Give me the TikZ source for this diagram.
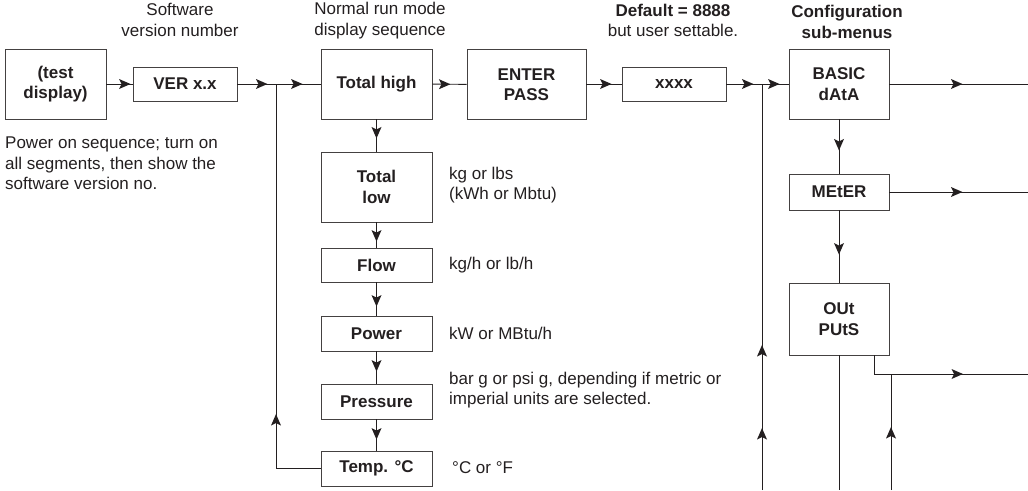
\documentclass[tikz,border=0pt]{standalone}
\usepackage{fontspec}
\setmainfont{Liberation Sans}
\usetikzlibrary{arrows.meta,decorations.markings}
\definecolor{ink}{HTML}{231F20}
\newcommand{\mytip}{\fill[ink] (0pt,0pt) -- (-11.5pt,5pt) -- (-9pt,0pt) -- (-11.5pt,-5pt) -- cycle;}
\tikzset{
  box/.style={draw=ink!85, line width=0.9pt, rectangle, inner sep=0pt, align=center,
    font=\fontsize{17}{20.5}\selectfont\bfseries, text=ink},
  lbl/.style={inner sep=0pt, align=left, anchor=west, font=\fontsize{17}{20.5}\selectfont, text=ink},
  ttl/.style={inner sep=0pt, align=center, font=\fontsize{17}{20.5}\selectfont, text=ink},
  conn/.style={draw=ink, line width=0.95pt},
  tipa/.style={decoration={markings, mark=at position #1 with {\mytip}}, postaction={decorate}},
  tipb/.style 2 args={decoration={markings,
      mark=at position #1 with {\mytip},
      mark=at position #2 with {\mytip}}, postaction={decorate}},
}
\begin{document}
\begin{tikzpicture}[x=1pt,y=-1pt]
\useasboundingbox (0,0) rectangle (1028,490);
% boxes
\node[box, minimum width=101pt, minimum height=70pt] (test) at (55.5,84) {(test\\display)};
\node[box, minimum width=104pt, minimum height=34pt] (ver) at (185,84) {VER x.x};
\node[box, minimum width=111pt, minimum height=70pt] (th) at (376.5,84) {Total high};
\node[box, minimum width=119pt, minimum height=70pt] (enter) at (526.5,84.5) {ENTER\\PASS};
\node[box, minimum width=104pt, minimum height=34pt] (xxxx) at (674,84) {xxxx};
\node[box, minimum width=100pt, minimum height=70pt] (basic) at (839,84) {BASIC\\dAtA};
\node[box, minimum width=100pt, minimum height=36pt] (meter) at (839,192) {MEtER};
\node[box, minimum width=100pt, minimum height=72pt] (outs) at (839,319) {OUt\\PUtS};
\node[box, minimum width=111pt, minimum height=70pt] (tl) at (376.5,187) {Total\\low};
\node[box, minimum width=111pt, minimum height=34pt] (flow) at (376.5,265) {Flow};
\node[box, minimum width=111pt, minimum height=35pt] (power) at (376.5,333.5) {Power};
\node[box, minimum width=111pt, minimum height=35pt] (press) at (376.5,401.5) {Pressure};
\node[box, minimum width=111pt, minimum height=35pt] (temp) at (376.5,468.5) {Temp. °C};
% titles
\node[ttl] (t1) at (180,20) {Software\\version number};
\node[ttl] (t2) at (380,20.5) {Normal run mode\\display sequence};
\node[ttl] (t3) at (673,20.5) {\textbf{Default = 8888}\\but user settable.};
\node[ttl, font=\fontsize{17}{20.5}\selectfont\bfseries] (t4) at (847,22) {Configuration\\sub-menus};
% annotations
\node[lbl, anchor=north west] (pw) at (5,137) {Power on sequence; turn on\\all segments, then show the\\software version no.};
\node[lbl] (a1) at (449,185) {kg or lbs\\(kWh or Mbtu)};
\node[lbl] (a2) at (449,265) {kg/h or lb/h};
\node[lbl] (a3) at (449,333) {kW or MBtu/h};
\node[lbl] (a4) at (449,390) {bar g or psi g, depending if metric or\\imperial units are selected.};
\node[lbl] (a5) at (452,468) {°C or °F};
% coordinates
\coordinate (j1) at (276,84);
\coordinate (j2) at (762,84);
\coordinate (r1) at (1028,84);
\coordinate (r2) at (1028,192);
\coordinate (r3) at (1028,374);
\coordinate (o1) at (874,355);
\coordinate (c891) at (891,374);
\coordinate (b762) at (762,490);
\coordinate (b839) at (839,490);
\coordinate (b891) at (891,490);
% connectors
\draw[conn, tipa=-2pt] (test) -- (ver);
\draw[conn, tipb={30pt}{-18pt}] (ver) -- (th);
\draw[conn, tipa=18pt] (th) -- (enter);
\draw[conn, tipa=-10pt] (enter.east |- xxxx) -- (xxxx);
\draw[conn, tipb={27pt}{-9pt}] (xxxx) -- (basic);
\draw[conn, tipa=73pt] (basic) -- (r1);
\draw[conn, tipa=73pt] (meter) -- (r2);
\draw[conn, tipa=31pt] (basic) -- (meter);
\draw[conn, tipa=-28pt] (meter) -- (outs);
\draw[conn, tipa=19pt] (th) -- (tl);
\draw[conn, tipa=-6pt] (tl) -- (flow);
\draw[conn, tipa=-9pt] (flow) -- (power);
\draw[conn, tipa=-12pt] (power) -- (press);
\draw[conn, tipa=-11pt] (press) -- (temp);
\draw[conn, tipa=99pt] (temp.west) -| (j1);
\draw[conn, tipb={62pt}{145pt}] (b762) -- (j2);
\draw[conn] (outs) -- (b839);
\draw[conn, tipa=108pt] (o1) |- (r3);
\draw[conn, tipa=63pt] (b891) -- (c891);
\end{tikzpicture}
\end{document}
